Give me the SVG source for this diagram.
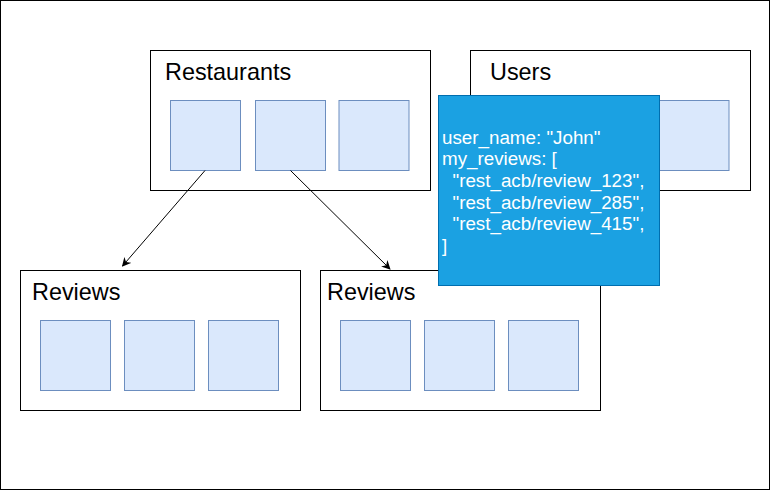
<svg xmlns="http://www.w3.org/2000/svg" width="771" height="491" viewBox="0 0 771 491">
  <style>
    .frame { fill: #ffffff; stroke: #000000; stroke-width: 1; }
    .item { fill: #dae8fc; stroke: #6c8ebf; stroke-width: 1; }
    .title { font-family: "Liberation Sans", Arial, sans-serif; font-size: 23.4px; fill: #000000; }
    .note { fill: #1ba1e2; stroke: #006eaf; stroke-width: 1; }
    .notetext { font-family: "Liberation Sans", Arial, sans-serif; font-size: 18.8px; fill: #ffffff; }
    .conn { fill: none; stroke: #000000; stroke-width: 1; }
  </style>
  <defs>
    <marker id="arrow" viewBox="0 0 10 10" refX="9" refY="5" markerWidth="9" markerHeight="9" markerUnits="userSpaceOnUse" orient="auto">
      <path d="M0,0 L10,5 L0,10 L3,5 Z" fill="#000000"/>
    </marker>
  </defs>
  <rect x="0.5" y="0.5" width="769" height="489" fill="#ffffff" stroke="#000000" stroke-width="1"/>

  <g id="restaurants">
    <rect class="frame" x="150.5" y="50.5" width="280" height="140"/>
    <text class="title" x="165" y="80">Restaurants</text>
    <rect class="item" x="170.5" y="100.5" width="70" height="70"/>
    <rect class="item" x="255.5" y="100.5" width="70" height="70"/>
    <rect class="item" x="339" y="100.5" width="70" height="70"/>
  </g>

  <g id="users">
    <rect class="frame" x="470.5" y="50.5" width="280" height="140"/>
    <text class="title" x="490" y="80">Users</text>
    <rect class="item" x="659" y="100.5" width="70" height="70"/>
  </g>

  <g id="reviews-1">
    <rect class="frame" x="20.5" y="270.5" width="280" height="140"/>
    <text class="title" x="32" y="300">Reviews</text>
    <rect class="item" x="40.5" y="320.5" width="70" height="70"/>
    <rect class="item" x="124.5" y="320.5" width="70" height="70"/>
    <rect class="item" x="208.5" y="320.5" width="70" height="70"/>
  </g>

  <g id="reviews-2">
    <rect class="frame" x="320.5" y="270.5" width="280" height="140"/>
    <text class="title" x="327" y="300">Reviews</text>
    <rect class="item" x="340.5" y="320.5" width="70" height="70"/>
    <rect class="item" x="424.5" y="320.5" width="70" height="70"/>
    <rect class="item" x="508.5" y="320.5" width="70" height="70"/>
  </g>

  <g id="connectors">
    <line class="conn" x1="205" y1="170.5" x2="122.5" y2="266" marker-end="url(#arrow)"/>
    <line class="conn" x1="290.5" y1="170.5" x2="390" y2="269" marker-end="url(#arrow)"/>
  </g>

  <g id="user-note">
    <rect class="note" x="438.5" y="95.5" width="221" height="190"/>
    <text class="notetext" x="442" y="143.5">user_name: "John"</text>
    <text class="notetext" x="442" y="165.2">my_reviews: [</text>
    <text class="notetext" x="452.5" y="186.9">"rest_acb/review_123",</text>
    <text class="notetext" x="452.5" y="208.6">"rest_acb/review_285",</text>
    <text class="notetext" x="452.5" y="230.3">"rest_acb/review_415",</text>
    <text class="notetext" x="442" y="252">]</text>
  </g>
</svg>
